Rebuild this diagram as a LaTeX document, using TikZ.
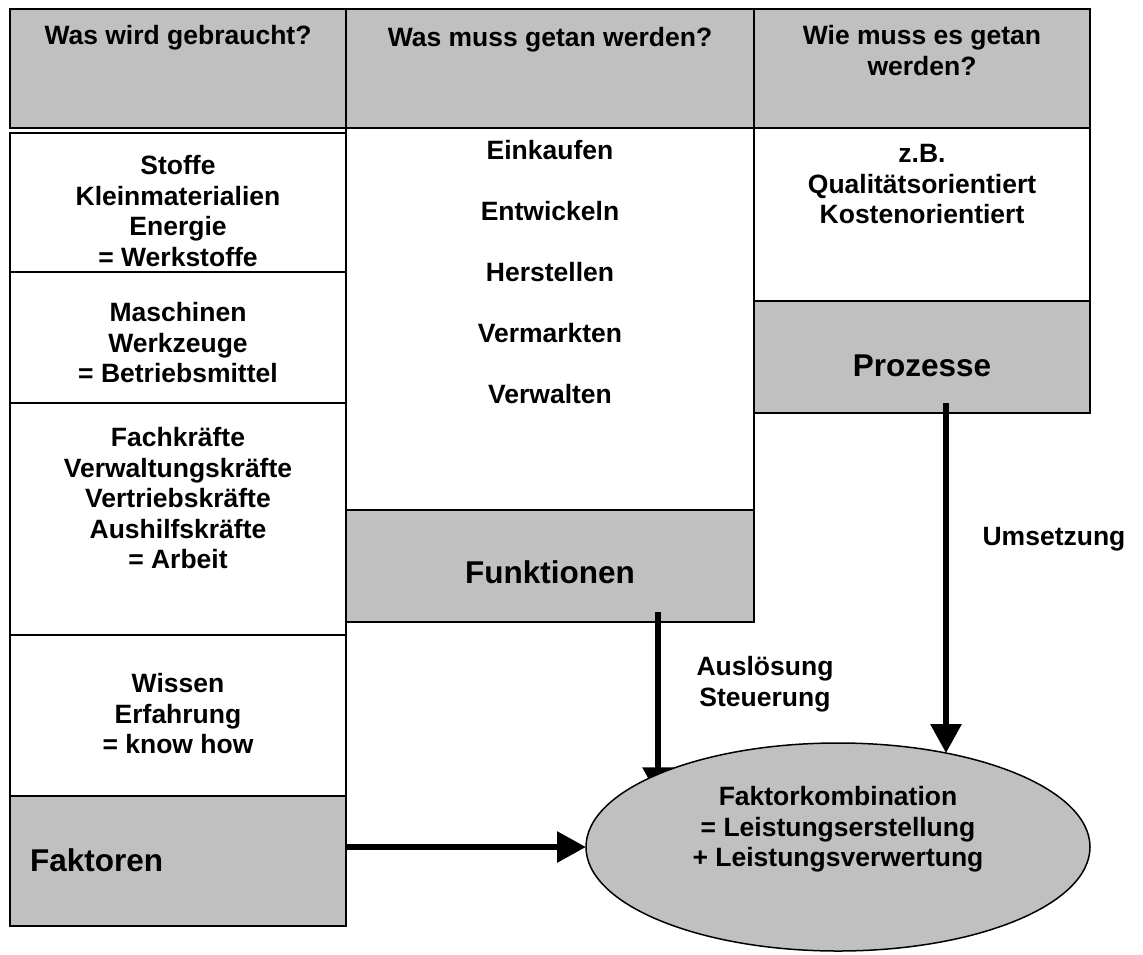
\documentclass[tikz,border=0pt]{standalone}
\usepackage{fontspec}
\setmainfont{Liberation Sans}
\usetikzlibrary{shapes.geometric,arrows.meta}
\definecolor{panelgray}{HTML}{C0C0C0}
\pgfdeclarelayer{front}
\pgfsetlayers{main,front}
\begin{document}
\begin{tikzpicture}[x=1pt,y=-1pt,
  cell/.style={draw=black,line width=2pt,outer sep=0pt,inner sep=0pt,anchor=north west},
  whitecell/.style={cell,fill=white},
  graycell/.style={cell,fill=panelgray},
  txt/.style={font=\bfseries\fontsize{26.5pt}{30.6pt}\selectfont,align=center,inner sep=0pt,anchor=north},
  listtxt/.style={txt,font=\bfseries\fontsize{26.5pt}{61pt}\selectfont},
  bigtxt/.style={font=\bfseries\fontsize{31.5pt}{36pt}\selectfont,inner sep=0pt},
  flow/.style={line width=6pt,-{Triangle[length=29pt,width=30pt]}},
]
\useasboundingbox (0,0) rectangle (1143,954);

% header row
\node[graycell,minimum width=336pt,minimum height=119pt] (head1) at (10,9) {};
\node[graycell,minimum width=408pt,minimum height=119pt] (head2) at (346,9) {};
\node[graycell,minimum width=336pt,minimum height=119pt] (head3) at (754,9) {};
\node[txt] (head1t) at (178,25) {Was wird gebraucht?};
\node[txt] (head2t) at (550,27) {Was muss getan werden?};
\node[txt] (head3t) at (922,25) {Wie muss es getan\\werden?};

% left column: production factors
\node[whitecell,minimum width=336pt,minimum height=139pt] (werk) at (10,133) {};
\node[whitecell,minimum width=336pt,minimum height=131pt] (betr) at (10,272) {};
\node[whitecell,minimum width=336pt,minimum height=232pt] (arb) at (10,403) {};
\node[whitecell,minimum width=336pt,minimum height=161pt] (know) at (10,635) {};
\node[graycell,minimum width=336pt,minimum height=130pt] (fak) at (10,796) {};
\node[txt] (werkt) at (178,155) {Stoffe\\Kleinmaterialien\\Energie\\= Werkstoffe};
\node[txt] (betrt) at (178,302) {Maschinen\\Werkzeuge\\= Betriebsmittel};
\node[txt] (arbt) at (178,427) {Fachkräfte\\Verwaltungskräfte\\Vertriebskräfte\\Aushilfskräfte\\= Arbeit};
\node[txt] (knowt) at (178,673) {Wissen\\Erfahrung\\= know how};
\node[bigtxt,anchor=west] (fakt) at (30,860) {Faktoren};

% middle column: functions
\node[whitecell,minimum width=408pt,minimum height=382pt] (funlist) at (346,128) {};
\node[graycell,minimum width=408pt,minimum height=112pt] (fun) at (346,510) {};
\node[listtxt] (funlistt) at (550,140) {Einkaufen\\Entwickeln\\Herstellen\\Vermarkten\\Verwalten};
\node[bigtxt] (funt) at (550,572) {Funktionen};

% right column: processes
\node[whitecell,minimum width=336pt,minimum height=173pt] (prolist) at (754,128) {};
\node[graycell,minimum width=336pt,minimum height=112pt] (pro) at (754,301) {};
\node[txt] (prolistt) at (922,144) {z.B.\\Qualitätsorientiert\\Kostenorientiert};
\node[bigtxt] (prot) at (922,366) {Prozesse};

% factor combination
\begin{pgfonlayer}{front}
\node[ellipse,draw=black,line width=1.5pt,fill=panelgray,inner sep=0pt,outer sep=0pt,
      minimum width=504pt,minimum height=208pt] (ell) at (838,847) {};
\node[txt] (ellt) at (838,786) {Faktorkombination\\= Leistungserstellung\\+ Leistungsverwertung};
\end{pgfonlayer}

% connectors
\coordinate (funout) at ([shift={(108,-10)}]fun.south);
\coordinate (proout) at ([shift={(24,-10)}]pro.south);
\draw[flow] (funout) -- ([yshift=-22pt]funout |- ell.158);
\draw[flow] (proout) -- (proout |- ell.41);
\draw[flow] (fak.east |- ell.west) -- (ell.west);

\node[txt] (auslt) at (765,656) {Auslösung\\Steuerung};
\node[txt] (umst) at (1054,527) {Umsetzung};
\end{tikzpicture}
\end{document}
